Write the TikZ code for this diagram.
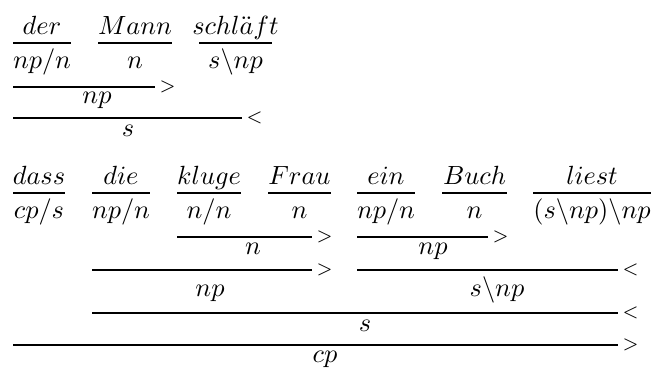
\documentclass[tikz,border=0pt]{standalone}
\usepackage{amsmath,amssymb}
\usetikzlibrary{positioning}

\begin{document}
\begin{tikzpicture}[x=0.38pt,y=-0.38pt,
  wrd/.style={inner sep=0pt,anchor=base},
  cat/.style={inner sep=0pt,anchor=base},
  res/.style={inner sep=0pt,anchor=base},
  rl/.style={line width=0.45pt},
  opr/.style={inner sep=0pt,anchor=west}]
\useasboundingbox (0,0) rectangle (654,370);

% der Mann schlaeft
\node[wrd] (der) at (42,34) {$der$};
\node[cat] (der-c) at (42,68) {$np/n$};
\node[wrd] (mann) at (135,34) {$Mann$};
\node[cat] (mann-c) at (135,68) {$n$};
\node[wrd] (schlaeft) at (235.5,34) {$schl\ddot{a}ft$};
\node[cat] (schlaeft-c) at (235.5,68) {$s\backslash np$};
\draw[rl] (13,43) -- (71,43);
\draw[rl] (98,43) -- (172,43);
\draw[rl] (199,43) -- (272,43);

\draw[rl] (13,87) coordinate (a1) -- (155,87) coordinate (a1e);
\node[opr] (a1-op) at ([xshift=1.5pt]a1e) {$\scriptstyle >$};
\node[res] (a1-r) at (97,103) {$np$};
\draw[rl] (13,118) coordinate (a2) -- (242,118) coordinate (a2e);
\node[opr] (a2-op) at ([xshift=1.5pt]a2e) {$\scriptstyle <$};
\node[res] (a2-r) at (128,136) {$s$};

% dass die kluge Frau ein Buch liest
\node[wrd] (dass) at (39,184) {$dass$};
\node[cat] (dass-c) at (39,218) {$cp/s$};
\node[wrd] (die) at (121,184) {$die$};
\node[cat] (die-c) at (121,218) {$np/n$};
\node[wrd] (kluge) at (209,184) {$kluge$};
\node[cat] (kluge-c) at (209,218) {$n/n$};
\node[wrd] (frau) at (299.5,184) {$Frau$};
\node[cat] (frau-c) at (299.5,218) {$n$};
\node[wrd] (ein) at (386,184) {$ein$};
\node[cat] (ein-c) at (386,218) {$np/n$};
\node[wrd] (buch) at (474.5,184) {$Buch$};
\node[cat] (buch-c) at (474.5,218) {$n$};
\node[wrd] (liest) at (592,184) {$liest$};
\node[cat] (liest-c) at (592,218) {$(s\backslash np)\backslash np$};
\draw[rl] (13,193) -- (65,193);
\draw[rl] (92,193) -- (150,193);
\draw[rl] (177,193) -- (241,193);
\draw[rl] (268,193) -- (331,193);
\draw[rl] (357,193) -- (415,193);
\draw[rl] (442,193) -- (507,193);
\draw[rl] (533,193) -- (651,193);

\draw[rl] (177,237) coordinate (b1) -- (312,237) coordinate (b1e);
\node[opr] (b1-op) at ([xshift=1.5pt]b1e) {$\scriptstyle >$};
\node[res] (b1-r) at (253,254) {$n$};
\draw[rl] (357,237) coordinate (b2) -- (488,237) coordinate (b2e);
\node[opr] (b2-op) at ([xshift=1.5pt]b2e) {$\scriptstyle >$};
\node[res] (b2-r) at (433,254) {$np$};

\draw[rl] (92,270) coordinate (b3) -- (312,270) coordinate (b3e);
\node[opr] (b3-op) at ([xshift=1.5pt]b3e) {$\scriptstyle >$};
\node[res] (b3-r) at (210,296) {$np$};
\draw[rl] (357,270) coordinate (b4) -- (618,270) coordinate (b4e);
\node[opr] (b4-op) at ([xshift=1.5pt]b4e) {$\scriptstyle <$};
\node[res] (b4-r) at (497,296) {$s\backslash np$};

\draw[rl] (92,313) coordinate (b5) -- (618,313) coordinate (b5e);
\node[opr] (b5-op) at ([xshift=1.5pt]b5e) {$\scriptstyle <$};
\node[res] (b5-r) at (365,331) {$s$};

\draw[rl] (13,345) coordinate (b6) -- (618,345) coordinate (b6e);
\node[opr] (b6-op) at ([xshift=1.5pt]b6e) {$\scriptstyle >$};
\node[res] (b6-r) at (325,362) {$cp$};
\end{tikzpicture}
\end{document}
